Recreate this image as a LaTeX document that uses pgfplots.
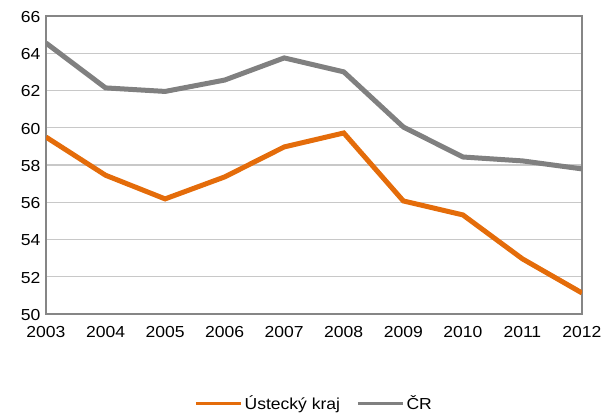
\documentclass[border=0pt]{standalone}
\usepackage{pgfplots}
\pgfplotsset{compat=1.18}
\usepackage{fontspec}
\setmainfont[FakeStretch=1.1]{Liberation Sans}
\definecolor{ora}{HTML}{E46C0A}
\definecolor{gry}{HTML}{808080}
\definecolor{grd}{HTML}{C8C8C8}
\definecolor{axc}{HTML}{868686}
\begin{document}
\begin{tikzpicture}
\begin{axis}[
  name=ax,
  scale only axis,
  width=536bp, height=298bp,
  xmin=2003, xmax=2012, ymin=50, ymax=66,
  xtick={2003,...,2012}, ytick={50,52,...,66},
  major tick length=0pt,
  ymajorgrids, grid style={grd, line width=1.3bp},
  axis line style={axc, line width=1.6bp},
  tick label style={font=\fontsize{16}{19}\selectfont},
  /pgf/number format/assume math mode=true,
  /pgf/number format/1000 sep={},
  xticklabel style={yshift=-9bp},
  yticklabel style={xshift=-2bp, yshift=-1bp},
  legend style={at={(0.5,-0.26)}, anchor=north, draw=none, font=\fontsize{16}{19}\selectfont, legend columns=2, /tikz/every even column/.append style={column sep=14bp}},
  legend image code/.code={\draw[#1, line width=3.5bp] (0,0) -- (45bp,0);},
]
\addplot[ora, line width=5bp] coordinates {(2003,59.5) (2004,57.45) (2005,56.18) (2006,57.36) (2007,58.97) (2008,59.72) (2009,56.07) (2010,55.32) (2011,52.96) (2012,51.13)};
\addlegendentry{Ústecký kraj}
\addplot[gry, line width=5bp] coordinates {(2003,64.55) (2004,62.14) (2005,61.95) (2006,62.56) (2007,63.75) (2008,63.0) (2009,60.04) (2010,58.43) (2011,58.22) (2012,57.79)};
\addlegendentry{ČR}
\coordinate (bl) at (rel axis cs:0,0);
\coordinate (tr) at (rel axis cs:1,1);
\end{axis}
\pgfresetboundingbox
\useasboundingbox ([shift={(-46bp,-101bp)}]bl) rectangle ([shift={(23bp,16bp)}]tr);
\end{tikzpicture}
\end{document}
